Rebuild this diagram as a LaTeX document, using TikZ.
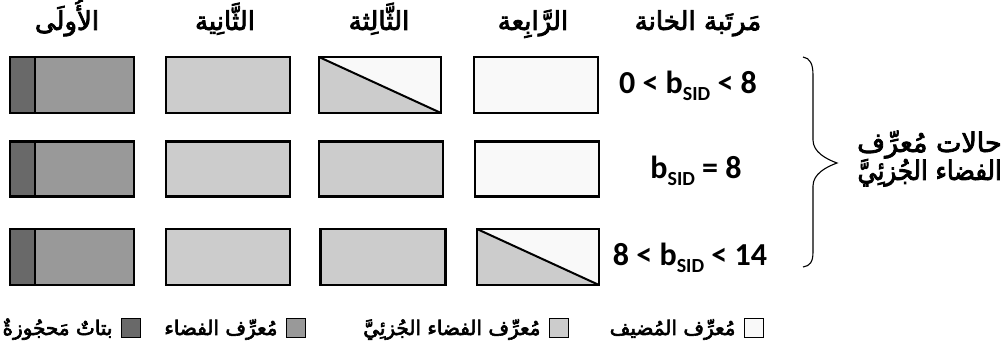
\documentclass[tikz,border=0pt]{standalone}
\usepackage{fontspec}
\setmainfont{Carlito}
\newfontfamily\arabicfont[Script=Arabic,FakeBold=3]{DejaVu Sans}
\TeXXeTstate=1
\definecolor{darkg}{gray}{0.41}
\definecolor{medg}{gray}{0.6}
\definecolor{lightg}{gray}{0.8}
\definecolor{whiteg}{gray}{0.975}
\newcommand{\sidsub}{\raisebox{-0.22em}{\fontsize{20}{20}\selectfont SID}}
\begin{document}
\begin{tikzpicture}[x=1pt,y=-1pt,
  cell/.style={draw=black, line width=2.4pt, minimum width=124pt, minimum height=56pt, inner sep=0pt},
  reserved/.style={fill=medg, path picture={
     \fill[darkg] (path picture bounding box.north west) rectangle ([xshift=25pt]path picture bounding box.south west);
     \draw[line width=2pt] ([xshift=25pt]path picture bounding box.north west) -- ([xshift=25pt]path picture bounding box.south west);}},
  subnet/.style={fill=lightg},
  host/.style={fill=whiteg},
  split/.style={fill=whiteg, path picture={
     \fill[lightg] (path picture bounding box.north west) -- (path picture bounding box.south east) -- (path picture bounding box.south west) -- cycle;
     \draw[line width=2pt] (path picture bounding box.north west) -- (path picture bounding box.south east);}},
  ar/.style={font=\arabicfont\fontsize{26}{28}\selectfont, inner sep=0pt, anchor=base},
  arlab/.style={font=\arabicfont\fontsize{27}{29}\selectfont, inner sep=0pt, anchor=base east},
  arsmall/.style={font=\arabicfont\fontsize{20}{22}\selectfont, inner sep=0pt},
  cond/.style={font=\bfseries\fontsize{32}{33}\selectfont, inner sep=0pt},
  legbox/.style={draw=black, line width=1.6pt, minimum width=19pt, minimum height=19pt, inner sep=0pt}
]
\useasboundingbox[fill=white] (0,0) rectangle (1005,347);

% headers
\node[ar] (h1) at (67,30) {\beginR الأُولَى\endR};
\node[ar] (h2) at (225,30) {\beginR الثَّانِية\endR};
\node[ar] (h3) at (379,30) {\beginR الثَّالِثة\endR};
\node[ar] (h4) at (533,30) {\beginR الرَّابِعة\endR};
\node[ar] (h5) at (698,30) {\beginR مَرتَبة الخانة\endR};

% row 1
\node[cell, reserved] (r1c1) at (72,85) {};
\node[cell, subnet] (r1c2) at (228,85) {};
\node[cell, split, minimum width=122pt] (r1c3) at (380,85) {};
\node[cell, host] (r1c4) at (536,85) {};
% row 2
\node[cell, reserved, minimum height=55pt] (r2c1) at (72,169) {};
\node[cell, subnet, minimum height=55pt] (r2c2) at (228,169) {};
\node[cell, subnet, minimum height=55pt] (r2c3) at (381,169) {};
\node[cell, host, minimum height=55pt] (r2c4) at (537,169) {};
% row 3
\node[cell, reserved] (r3c1) at (72,257) {};
\node[cell, subnet] (r3c2) at (228,257) {};
\node[cell, subnet, minimum width=125pt] (r3c3) at (383,257) {};
\node[cell, split, minimum width=122pt] (r3c4) at (538,257) {};

% conditions
\node[cond] (k1) at (688,86) {0 < b\sidsub{} < 8};
\node[cond] (k2) at (696,171) {b\sidsub{} = 8};
\node[cond] (k3) at (690,258) {8 < b\sidsub{} < 14};

% brace
\coordinate (bt) at (803,57);
\coordinate (bm) at (837,163);
\coordinate (bb) at (803,267);
\draw[line width=1.1pt] (bt) .. controls (810,58) and (813,64) .. (813,75) -- (813,140)
  .. controls (813,152) and (826,159) .. (bm)
  .. controls (826,167) and (813,174) .. (813,186) -- (813,252)
  .. controls (813,262) and (810,266) .. (bb);

% label
\node[arlab] (lab1) at (1002,152) {\beginR حالات مُعرِّف\endR};
\node[arlab] (lab2) at (1002,180) {\scalebox{0.9}[1]{\beginR الفضاء الجُزئِيَّ\endR}};

% legend
\node[legbox, fill=whiteg] (lb1) at (754,328) {};
\node[arsmall, anchor=base east] (lt1) at ([xshift=-8pt,yshift=-7pt]lb1.west) {\beginR مُعرِّف المُضيف\endR};
\node[legbox, fill=lightg] (lb2) at (559,328) {};
\node[arsmall, anchor=base east] (lt2) at ([xshift=-8pt,yshift=-7pt]lb2.west) {\beginR مُعرِّف الفضاء الجُزئِيَّ\endR};
\node[legbox, fill=medg] (lb3) at (296,328) {};
\node[arsmall, anchor=base east] (lt3) at ([xshift=-8pt,yshift=-7pt]lb3.west) {\beginR مُعرِّف الفضاء\endR};
\node[legbox, fill=darkg] (lb4) at (131,328) {};
\node[arsmall, anchor=base east] (lt4) at ([xshift=-8pt,yshift=-7pt]lb4.west) {\beginR بتاتٌ مَحجُوزةٌ\endR};
\end{tikzpicture}
\end{document}
